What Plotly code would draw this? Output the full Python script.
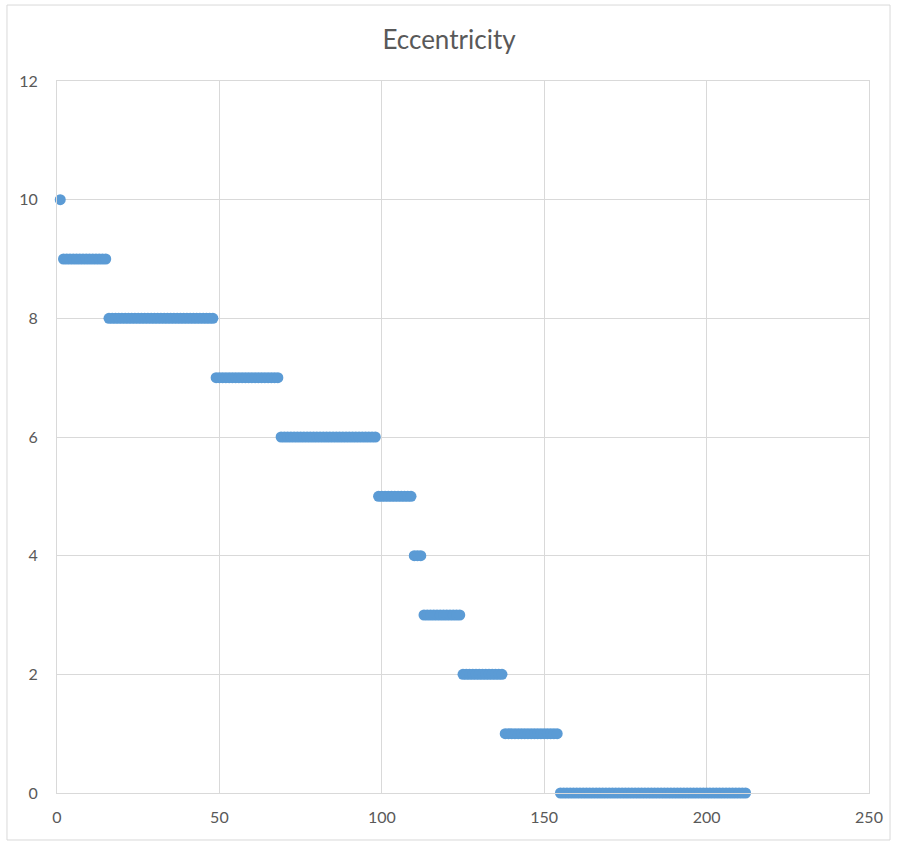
import plotly.graph_objects as go

# Eccentricity levels and the index range (first..last point) covered by each level
ecc_levels = [10, 9, 8, 7, 6, 5, 4, 3, 2, 1, 0]
first_idx = [1, 2, 16, 49, 69, 99, 110, 113, 125, 138, 155]
last_idx = [1, 15, 48, 68, 98, 109, 112, 124, 137, 154, 212]

xs, ys = [], []
for lvl, a, b in zip(ecc_levels, first_idx, last_idx):
    for i in range(a, b + 1):
        xs.append(i)
        ys.append(lvl)

x_ticks = [0, 50, 100, 150, 200, 250]
y_ticks = [0, 2, 4, 6, 8, 10, 12]

fig = go.Figure()
fig.add_trace(go.Scatter(
    x=xs, y=ys, mode="markers",
    marker=dict(color="#5b9bd5", size=11, line=dict(width=0)),
    cliponaxis=False, showlegend=False,
))

axis_font = dict(family="Lato, 'Open Sans', sans-serif", size=16, color="#595959")
fig.update_layout(
    width=898, height=842,
    margin=dict(l=57, r=29, t=81, b=49),
    paper_bgcolor="white", plot_bgcolor="white",
    title=dict(text="Eccentricity", x=0.5, xanchor="center", y=1 - 40 / 842, yanchor="middle",
               font=dict(family="Lato, 'Open Sans', sans-serif", size=26, color="#595959")),
    xaxis=dict(range=[0, 250], tickvals=x_ticks, showgrid=True, gridcolor="#d9d9d9",
               gridwidth=1, zeroline=False, showline=True, linecolor="#d9d9d9",
               mirror=True, ticks="", tickfont=axis_font, ticklabelstandoff=10),
    yaxis=dict(range=[0, 12], tickvals=y_ticks, showgrid=True, gridcolor="#d9d9d9",
               gridwidth=1, zeroline=False, showline=True, linecolor="#d9d9d9",
               mirror=True, ticks="", tickfont=axis_font, ticklabelstandoff=15),
    shapes=[dict(type="rect", xref="paper", yref="paper",
                 x0=-0.0616, x1=1.0259, y0=-0.066, y1=1.1067,
                 line=dict(color="#d9d9d9", width=1), fillcolor="rgba(0,0,0,0)",
                 layer="below")],
)

fig.write_html("out.html", config={"displayModeBar": False},
               post_script="document.body.style.margin='0';")
